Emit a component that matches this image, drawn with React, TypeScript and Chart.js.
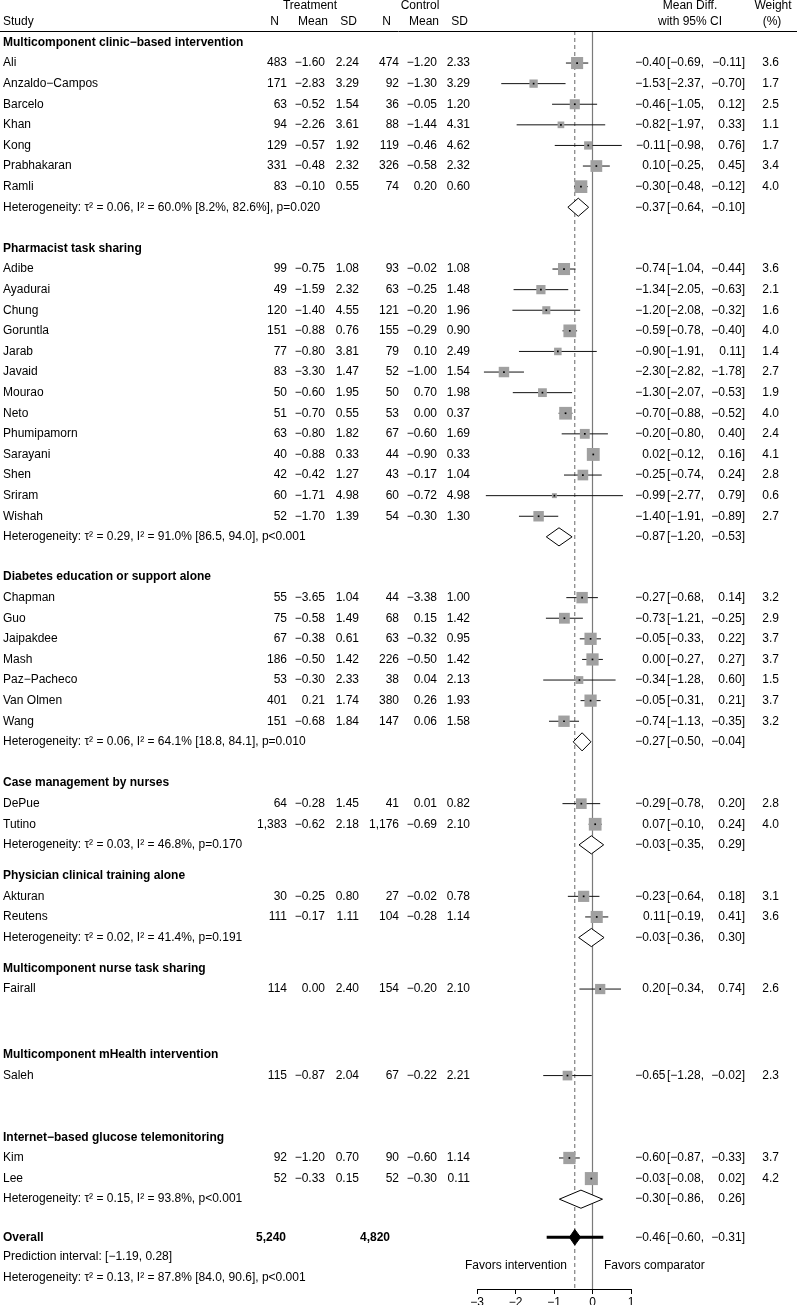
import React, { useEffect, useRef } from "react";
import { Chart, registerables } from "chart.js";
Chart.register(...registerables);

const MINUS = "\u2212";
const FONT = '"Liberation Sans", Arial, Helvetica, sans-serif';

// ---- subgroup structure ----
const groupNames = [
  "Multicomponent clinic\u2212based intervention",
  "Pharmacist task sharing",
  "Diabetes education or support alone",
  "Case management by nurses",
  "Physician clinical training alone",
  "Multicomponent nurse task sharing",
  "Multicomponent mHealth intervention",
  "Internet\u2212based glucose telemonitoring",
];
const groupSizes = [7, 13, 7, 2, 2, 1, 1, 2];
const groupRows = [0.05, 10.05, 26, 36, 40.5, 45, 49.2, 53.2];

// ---- studies ----
const studyNames = [
  "Ali", "Anzaldo\u2212Campos", "Barcelo", "Khan", "Kong", "Prabhakaran", "Ramli",
  "Adibe", "Ayadurai", "Chung", "Goruntla", "Jarab", "Javaid", "Mourao", "Neto", "Phumipamorn", "Sarayani", "Shen", "Sriram", "Wishah",
  "Chapman", "Guo", "Jaipakdee", "Mash", "Paz\u2212Pacheco", "Van Olmen", "Wang",
  "DePue", "Tutino",
  "Akturan", "Reutens",
  "Fairall",
  "Saleh",
  "Kim", "Lee",
];
const treatN = [483, 171, 63, 94, 129, 331, 83, 99, 49, 120, 151, 77, 83, 50, 51, 63, 40, 42, 60, 52, 55, 75, 67, 186, 53, 401, 151, 64, 1383, 30, 111, 114, 115, 92, 52];
const treatMean = [-1.6, -2.83, -0.52, -2.26, -0.57, -0.48, -0.1, -0.75, -1.59, -1.4, -0.88, -0.8, -3.3, -0.6, -0.7, -0.8, -0.88, -0.42, -1.71, -1.7, -3.65, -0.58, -0.38, -0.5, -0.3, 0.21, -0.68, -0.28, -0.62, -0.25, -0.17, 0.0, -0.87, -1.2, -0.33];
const treatSD = [2.24, 3.29, 1.54, 3.61, 1.92, 2.32, 0.55, 1.08, 2.32, 4.55, 0.76, 3.81, 1.47, 1.95, 0.55, 1.82, 0.33, 1.27, 4.98, 1.39, 1.04, 1.49, 0.61, 1.42, 2.33, 1.74, 1.84, 1.45, 2.18, 0.8, 1.11, 2.4, 2.04, 0.7, 0.15];
const ctrlN = [474, 92, 36, 88, 119, 326, 74, 93, 63, 121, 155, 79, 52, 50, 53, 67, 44, 43, 60, 54, 44, 68, 63, 226, 38, 380, 147, 41, 1176, 27, 104, 154, 67, 90, 52];
const ctrlMean = [-1.2, -1.3, -0.05, -1.44, -0.46, -0.58, 0.2, -0.02, -0.25, -0.2, -0.29, 0.1, -1.0, 0.7, 0.0, -0.6, -0.9, -0.17, -0.72, -0.3, -3.38, 0.15, -0.32, -0.5, 0.04, 0.26, 0.06, 0.01, -0.69, -0.02, -0.28, -0.2, -0.22, -0.6, -0.3];
const ctrlSD = [2.33, 3.29, 1.2, 4.31, 4.62, 2.32, 0.6, 1.08, 1.48, 1.96, 0.9, 2.49, 1.54, 1.98, 0.37, 1.69, 0.33, 1.04, 4.98, 1.3, 1.0, 1.42, 0.95, 1.42, 2.13, 1.93, 1.58, 0.82, 2.1, 0.78, 1.14, 2.1, 2.21, 1.14, 0.11];
const meanDiff = [-0.4, -1.53, -0.46, -0.82, -0.11, 0.1, -0.3, -0.74, -1.34, -1.2, -0.59, -0.9, -2.3, -1.3, -0.7, -0.2, 0.02, -0.25, -0.99, -1.4, -0.27, -0.73, -0.05, 0.0, -0.34, -0.05, -0.74, -0.29, 0.07, -0.23, 0.11, 0.2, -0.65, -0.6, -0.03];
const ciLower = [-0.69, -2.37, -1.05, -1.97, -0.98, -0.25, -0.48, -1.04, -2.05, -2.08, -0.78, -1.91, -2.82, -2.07, -0.88, -0.8, -0.12, -0.74, -2.77, -1.91, -0.68, -1.21, -0.33, -0.27, -1.28, -0.31, -1.13, -0.78, -0.1, -0.64, -0.19, -0.34, -1.28, -0.87, -0.08];
const ciUpper = [-0.11, -0.7, 0.12, 0.33, 0.76, 0.45, -0.12, -0.44, -0.63, -0.32, -0.4, 0.11, -1.78, -0.53, -0.52, 0.4, 0.16, 0.24, 0.79, -0.89, 0.14, -0.25, 0.22, 0.27, 0.6, 0.21, -0.35, 0.2, 0.24, 0.18, 0.41, 0.74, -0.02, -0.33, 0.02];
const weights = [3.6, 1.7, 2.5, 1.1, 1.7, 3.4, 4.0, 3.6, 2.1, 1.6, 4.0, 1.4, 2.7, 1.9, 4.0, 2.4, 4.1, 2.8, 0.6, 2.7, 3.2, 2.9, 3.7, 3.7, 1.5, 3.7, 3.2, 2.8, 4.0, 3.1, 3.6, 2.6, 2.3, 3.7, 4.2];

// ---- subgroup summaries (null = single study) ----
const hetTau2 = [0.06, 0.29, 0.06, 0.03, 0.02, null, null, 0.15];
const hetI2 = [60.0, 91.0, 64.1, 46.8, 41.4, null, null, 93.8];
const hetI2CI = ["[8.2%, 82.6%]", "[86.5, 94.0]", "[18.8, 84.1]", "", "", "", "", ""];
const hetP = ["p=0.020", "p<0.001", "p=0.010", "p=0.170", "p=0.191", "", "", "p<0.001"];
const subMD = [-0.37, -0.87, -0.27, -0.03, -0.03, null, null, -0.3];
const subLower = [-0.64, -1.2, -0.5, -0.35, -0.36, null, null, -0.86];
const subUpper = [-0.1, -0.53, -0.04, 0.29, 0.3, null, null, 0.26];

// ---- overall ----
const overallRows = [58.05, 59, 60];
const overallN = [5240, 4820];
const overallEst = [-0.46, -0.6, -0.31];
const predInterval = [-1.19, 0.28];
const overallHet = { tau2: 0.13, i2: 87.8, ci: "[84.0, 90.6]", p: "p<0.001" };
const xTicks = [-3, -2, -1, 0, 1];

const fmt = (v: number, d = 2) => (v < 0 ? MINUS : "") + Math.abs(v).toFixed(d);
const fmtN = (n: number) => n.toLocaleString("en-US");

// derived rows
const studyRows: number[] = [];
const hetRows: number[] = [];
{
  let k = 0;
  groupSizes.forEach((n, g) => {
    for (let j = 0; j < n; j++) {
      studyRows[k] = groupRows[g] + 1 + j;
      k++;
    }
    hetRows[g] = groupRows[g] + 1 + n;
  });
}

const hetText = (tau2: number, i2: number, ci: string, p: string) =>
  `Heterogeneity: \u03c4\u00b2 = ${tau2.toFixed(2)}, I\u00b2 = ${i2.toFixed(1)}%${ci ? " " + ci : ""}, ${p}`;

const COLS = { tN: 287, tMean: 325, tSD: 359, cN: 399, cMean: 437, cSD: 470, est: 665.5, br: 667, hi: 741.5, w: 779 };

const textPlugin = {
  id: "forestText",
  afterDraw(chart: any) {
    const ctx = chart.ctx as CanvasRenderingContext2D;
    const ys = chart.scales.y;
    const Y = (r: number) => ys.getPixelForValue(r);
    const reg = `12px ${FONT}`;
    const bold = `bold 12px ${FONT}`;
    ctx.save();
    ctx.fillStyle = "#000";
    ctx.textBaseline = "middle";
    const txt = (s: string, x: number, y: number, align: CanvasTextAlign = "left", f = reg) => {
      ctx.font = f;
      ctx.textAlign = align;
      ctx.fillText(s, x, y);
    };
    const ciText = (md: number, lo: number, hi: number, y: number) => {
      txt(fmt(md), COLS.est, y, "right");
      txt("[" + fmt(lo) + ",", COLS.br, y, "left");
      txt(fmt(hi) + "]", COLS.hi + 3.5, y, "right");
    };
    // header
    txt("Treatment", 310, 6, "center");
    txt("Control", 420, 6, "center");
    txt("Study", 3, 22);
    txt("N", 279, 22, "right");
    txt("Mean", 328, 22, "right");
    txt("SD", 357, 22, "right");
    txt("N", 391, 22, "right");
    txt("Mean", 439, 22, "right");
    txt("SD", 468, 22, "right");
    txt("Mean Diff.", 690, 6, "center");
    txt("with 95% CI", 690, 22, "center");
    txt("Weight", 773, 6, "center");
    txt("(%)", 772, 22, "center");
    ctx.strokeStyle = "#000";
    ctx.lineWidth = 1;
    ctx.beginPath();
    ctx.moveTo(0, 31.5);
    ctx.lineTo(797, 31.5);
    ctx.stroke();

    groupNames.forEach((name, g) => {
      txt(name, 3, Y(groupRows[g]), "left", bold);
      if (hetTau2[g] !== null) {
        const y = Y(hetRows[g]);
        txt(hetText(hetTau2[g] as number, hetI2[g] as number, hetI2CI[g], hetP[g]), 3, y);
        ciText(subMD[g] as number, subLower[g] as number, subUpper[g] as number, y);
      }
    });
    studyNames.forEach((name, i) => {
      const y = Y(studyRows[i]);
      txt(name, 3, y);
      txt(fmtN(treatN[i]), COLS.tN, y, "right");
      txt(fmt(treatMean[i]), COLS.tMean, y, "right");
      txt(fmt(treatSD[i]), COLS.tSD, y, "right");
      txt(fmtN(ctrlN[i]), COLS.cN, y, "right");
      txt(fmt(ctrlMean[i]), COLS.cMean, y, "right");
      txt(fmt(ctrlSD[i]), COLS.cSD, y, "right");
      ciText(meanDiff[i], ciLower[i], ciUpper[i], y);
      txt(weights[i].toFixed(1), COLS.w, y, "right");
    });
    // overall
    const yo = Y(overallRows[0]);
    txt("Overall", 3, yo, "left", bold);
    txt(fmtN(overallN[0]), 286, yo, "right", bold);
    txt(fmtN(overallN[1]), 390, yo, "right", bold);
    ciText(overallEst[0], overallEst[1], overallEst[2], yo);
    txt(`Prediction interval: [${fmt(predInterval[0])}, ${fmt(predInterval[1])}]`, 3, Y(overallRows[1]));
    txt(hetText(overallHet.tau2, overallHet.i2, overallHet.ci, overallHet.p), 3, Y(overallRows[2]));
    // favours labels
    txt("Favors intervention", 567, 1266, "right");
    txt("Favors comparator", 604, 1266, "left");
    ctx.restore();
  },
};

const refLinesPlugin = {
  id: "refLines",
  beforeDatasetsDraw(chart: any) {
    const ctx = chart.ctx as CanvasRenderingContext2D;
    const xs = chart.scales.x;
    const { top, bottom } = chart.chartArea;
    ctx.save();
    ctx.strokeStyle = "#7a7a7a";
    ctx.lineWidth = 1.2;
    const x0 = xs.getPixelForValue(0);
    ctx.beginPath();
    ctx.moveTo(x0, top);
    ctx.lineTo(x0, bottom);
    ctx.stroke();
    ctx.setLineDash([4, 3]);
    ctx.strokeStyle = "#666";
    ctx.lineWidth = 1;
    const xd = xs.getPixelForValue(overallEst[0]);
    ctx.beginPath();
    ctx.moveTo(xd, top);
    ctx.lineTo(xd, bottom);
    ctx.stroke();
    ctx.restore();
  },
};

export default function App() {
  const ref = useRef<HTMLCanvasElement>(null);
  useEffect(() => {
    if (!ref.current) return;
    const ciData: any[] = [];
    studyNames.forEach((_, i) => {
      ciData.push({ x: ciLower[i], y: studyRows[i] }, { x: ciUpper[i], y: studyRows[i] }, { x: null, y: null });
    });
    const boxData = studyNames.map((_, i) => ({ x: meanDiff[i], y: studyRows[i], w: weights[i] }));
    const diamonds: any[] = [];
    groupNames.forEach((_, g) => {
      if (subMD[g] === null) return;
      const r = hetRows[g];
      const h = 0.44;
      diamonds.push({
        showLine: true,
        data: [
          { x: subLower[g], y: r },
          { x: subMD[g], y: r - h },
          { x: subUpper[g], y: r },
          { x: subMD[g], y: r + h },
          { x: subLower[g], y: r },
        ],
        borderColor: "#000",
        borderWidth: 1,
        backgroundColor: "#fff",
        fill: "shape",
        pointRadius: 0,
        tension: 0,
        order: 2,
      });
    });
    const ro = overallRows[0];
    const chart = new Chart(ref.current, {
      type: "scatter",
      data: {
        datasets: [
          { data: ciData, showLine: true, borderColor: "#111", borderWidth: 1, pointRadius: 0, spanGaps: false, order: 5 } as any,
          {
            data: boxData,
            pointStyle: "rect",
            pointRadius: (c: any) => 4.5 * Math.sqrt(c.raw ? c.raw.w : 1),
            pointHoverRadius: (c: any) => 4.5 * Math.sqrt(c.raw ? c.raw.w : 1),
            backgroundColor: "#a0a0a0",
            borderWidth: 0,
            order: 4,
          } as any,
          {
            data: boxData.map((d) => ({ x: d.x, y: d.y })),
            pointStyle: "rect",
            pointRadius: 1.2,
            backgroundColor: "#000",
            borderWidth: 0,
            order: 3,
          } as any,
          ...diamonds,
          {
            data: [{ x: predInterval[0], y: ro }, { x: predInterval[1], y: ro }],
            showLine: true,
            borderColor: "#000",
            borderWidth: 3,
            pointRadius: 0,
            order: 1.5,
          } as any,
          {
            data: [
              { x: overallEst[1], y: ro },
              { x: overallEst[0], y: ro - 0.38 },
              { x: overallEst[2], y: ro },
              { x: overallEst[0], y: ro + 0.38 },
              { x: overallEst[1], y: ro },
            ],
            showLine: true,
            borderColor: "#000",
            borderWidth: 1,
            backgroundColor: "#000",
            fill: "shape",
            pointRadius: 0,
            order: 1,
          } as any,
        ],
      },
      options: {
        animation: false,
        responsive: false,
        devicePixelRatio: 1,
        events: [],
        layout: { padding: { left: 477, right: 166, top: 31, bottom: 0 } },
        plugins: { legend: { display: false }, tooltip: { enabled: false } },
        scales: {
          x: {
            type: "linear",
            position: "bottom",
            min: -3,
            max: 1,
            afterBuildTicks: (s: any) => {
              s.ticks = xTicks.map((v) => ({ value: v }));
            },
            afterFit: (s: any) => {
              s.height = 16;
            },
            ticks: {
              callback: (v: any) => (v < 0 ? MINUS : "") + Math.abs(v),
              color: "#000",
              font: { family: FONT, size: 12 },
              padding: 1,
              maxRotation: 0,
              autoSkip: false,
            },
            grid: { display: true, drawOnChartArea: false, drawTicks: true, tickLength: 5, color: "#000" },
            border: { display: true, color: "#000", width: 1 },
          },
          y: {
            type: "linear",
            display: false,
            reverse: true,
            min: -0.505,
            max: 60.56,
          },
        },
      },
      plugins: [refLinesPlugin, textPlugin],
    });
    return () => chart.destroy();
  }, []);
  return (
    <div style={{ position: "fixed", left: 0, top: 0, width: 797, height: 1305, overflow: "hidden", background: "#fff" }}>
      <canvas ref={ref} width={797} height={1305} style={{ display: "block", width: 797, height: 1305 }} />
    </div>
  );
}
